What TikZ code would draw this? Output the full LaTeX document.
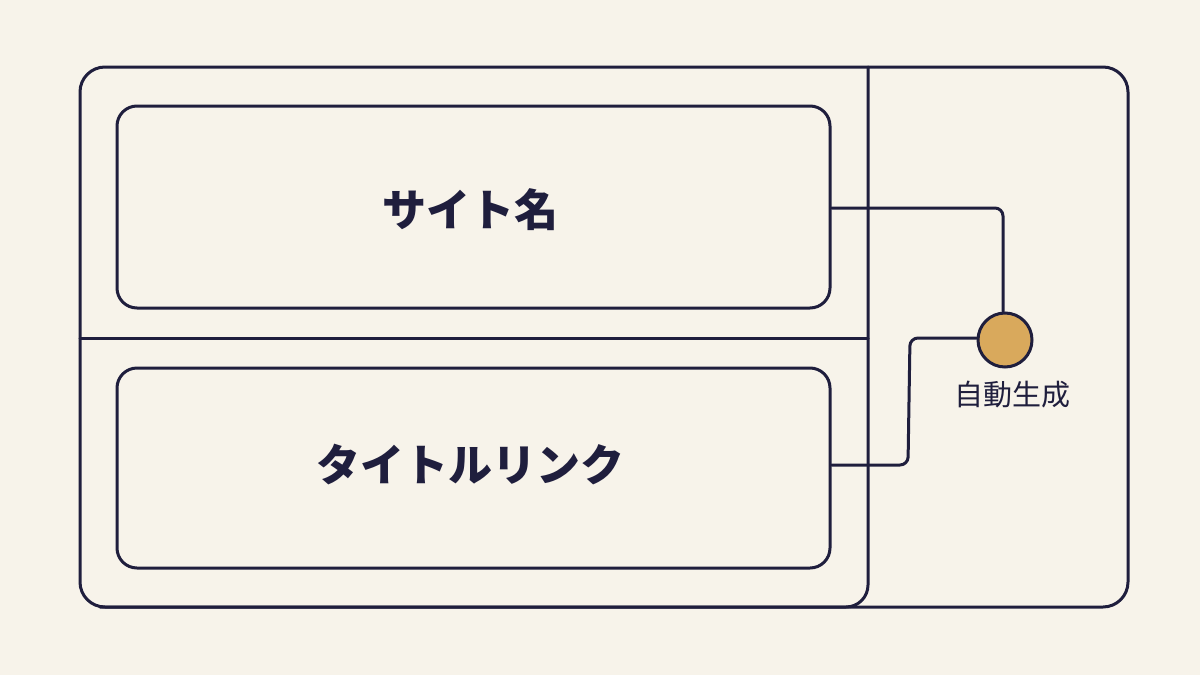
\documentclass[tikz,border=0pt]{standalone}
\usepackage{fontspec}
\newfontfamily\cjk{Noto Sans CJK JP}
\definecolor{bg}{HTML}{F7F3EA}
\definecolor{ink}{HTML}{1F1E3D}
\definecolor{gold}{HTML}{D9A95C}
\begin{document}
\begin{tikzpicture}[x=1pt,y=-1pt,line width=3pt,
  ln/.style={draw=ink,line join=round,line cap=round},
  box/.style={ln,rounded corners=20pt}]
\fill[bg] (0,0) rectangle (1200,675);
\useasboundingbox (0,0) rectangle (1200,675);
\draw[box,rounded corners=25pt] (80,67) rectangle (1128,607);
\draw[ln,rounded corners=22pt] (868,67) -- (868,607) -- (100,607);
\draw[ln] (80,338) -- (868,338);
\node[box,minimum width=713pt,minimum height=202pt] (b1) at (473.5,207) {};
\node[box,minimum width=713pt,minimum height=200pt] (b2) at (473.5,468) {};
\node[text=ink,font=\cjk\bfseries\fontsize{44}{50}\selectfont] at (470,210) {サイト名};
\node[text=ink,font=\cjk\bfseries\fontsize{44}{50}\selectfont] at (470,465) {タイトルリンク};
\node[circle,fill=gold,draw=ink,line width=3pt,minimum size=54pt,inner sep=0] (c) at (1005,340) {};
\node[text=ink,font=\cjk\fontsize{29}{34}\selectfont] (lab) at (1012,395) {自動生成};
\draw[ln,rounded corners=8pt] (b1.east |- 0,208) -- (1003,208) -- (c.north -| 1003,0);
\draw[ln,rounded corners=8pt] (b2.east |- 0,465) -- (908,465) -- (910,338) -- (c.west |- 0,338);
\end{tikzpicture}
\end{document}
